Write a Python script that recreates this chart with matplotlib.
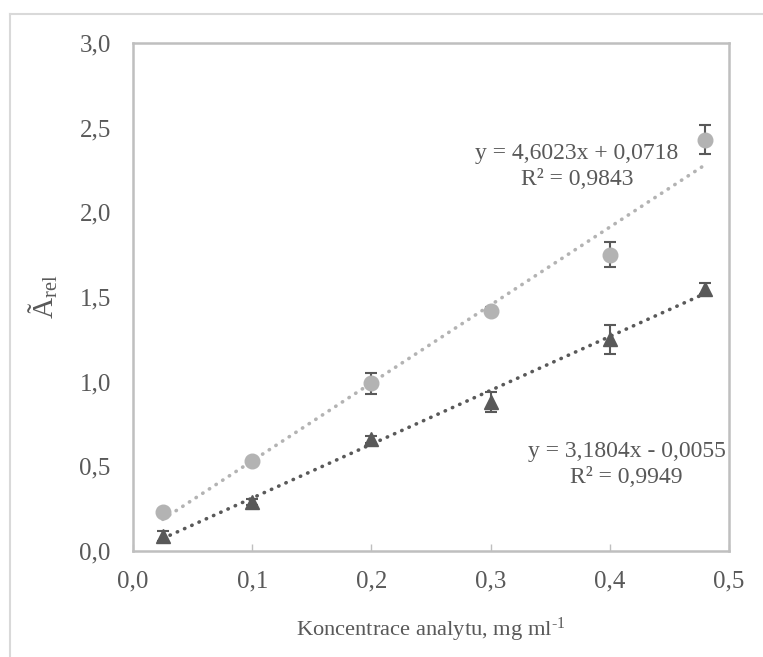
import matplotlib
matplotlib.use("Agg")
import matplotlib.pyplot as plt
from matplotlib.ticker import FuncFormatter
import numpy as np

plt.rcParams['font.family'] = ['Liberation Serif', 'DejaVu Serif']
plt.rcParams['mathtext.fontset'] = 'custom'
plt.rcParams['mathtext.rm'] = 'Liberation Serif'
plt.rcParams['mathtext.it'] = 'Liberation Serif:italic'

# data
conc = [0.025, 0.1, 0.2, 0.3, 0.4, 0.48]
circle_y = [0.23, 0.53, 0.99, 1.42, 1.75, 2.43]
circle_err = [0.02, 0.02, 0.06, 0.02, 0.075, 0.085]
tri_y = [0.09, 0.29, 0.66, 0.88, 1.25, 1.55]
tri_err = [0.03, 0.02, 0.02, 0.06, 0.087, 0.03]

fit_circle = (4.6023, 0.0718)
fit_tri = (3.1804, -0.0055)
eq_circle = "y = 4,6023x + 0,0718\nR² = 0,9843"
eq_tri = "y = 3,1804x - 0,0055\nR² = 0,9949"

light = "#b3b3b3"
dark = "#595959"
text_col = "#595959"
spine_col = "#bfbfbf"


def comma(v, pos):
    return f"{v:.1f}".replace(".", ",")


fig = plt.figure(figsize=(7.63, 6.57), dpi=100)
ax = fig.add_axes([133/763, 1 - 551/657, (729-133)/763, (551-43)/657])

xs = np.array([conc[0], conc[-1]])
ax.plot(xs, fit_circle[0]*xs + fit_circle[1], color=light, lw=2.6,
        linestyle=(0, (0.1, 2.1)), dash_capstyle='round', zorder=2)
ax.plot(xs, fit_tri[0]*xs + fit_tri[1], color=dark, lw=2.6,
        linestyle=(0, (0.1, 2.1)), dash_capstyle='round', zorder=2)

ax.errorbar(conc, circle_y, yerr=circle_err, fmt='o', color=light, ms=10.5,
            ecolor=dark, elinewidth=1.5, capsize=4.5, capthick=1.5, zorder=3)
ax.errorbar(conc, tri_y, yerr=tri_err, fmt='^', color=dark, ms=10.5,
            ecolor=dark, elinewidth=1.5, capsize=4.5, capthick=1.5, zorder=3)

ax.set_xlim(0, 0.5)
ax.set_ylim(0, 3.0)
ax.set_xticks(np.arange(0, 0.51, 0.1))
ax.set_yticks(np.arange(0, 3.01, 0.5))
ax.xaxis.set_major_formatter(FuncFormatter(comma))
ax.yaxis.set_major_formatter(FuncFormatter(comma))
ax.tick_params(axis='both', labelsize=18, colors=text_col, length=5,
               width=1, color=spine_col)
ax.tick_params(axis='y', length=0, pad=16)
ax.tick_params(axis='x', direction='in', pad=14)
for s in ax.spines.values():
    s.set_color(spine_col)
    s.set_linewidth(1.8)

ax.set_xlabel("Koncentrace analytu, mg ml$^{\\text{-1}}$", fontsize=16.2,
              color=text_col, labelpad=17)
ax.set_ylabel("Ã$_{\\mathrm{rel}}$", fontsize=21, color=text_col, labelpad=14)

ax.text(0.3725, 2.27, eq_circle, fontsize=17, color=text_col, ha='center',
        va='center', linespacing=1.35)
ax.text(0.414, 0.51, eq_tri, fontsize=17, color=text_col, ha='center',
        va='center', linespacing=1.35)

# outer frame lines
fig.add_artist(plt.Line2D([10/763, 10/763], [0, 1 - 14/657],
                          color="#d9d9d9", lw=1.5))
fig.add_artist(plt.Line2D([10/763, 1], [1 - 14/657, 1 - 14/657],
                          color="#d9d9d9", lw=1.5))

fig.savefig("out.png", dpi=100)
